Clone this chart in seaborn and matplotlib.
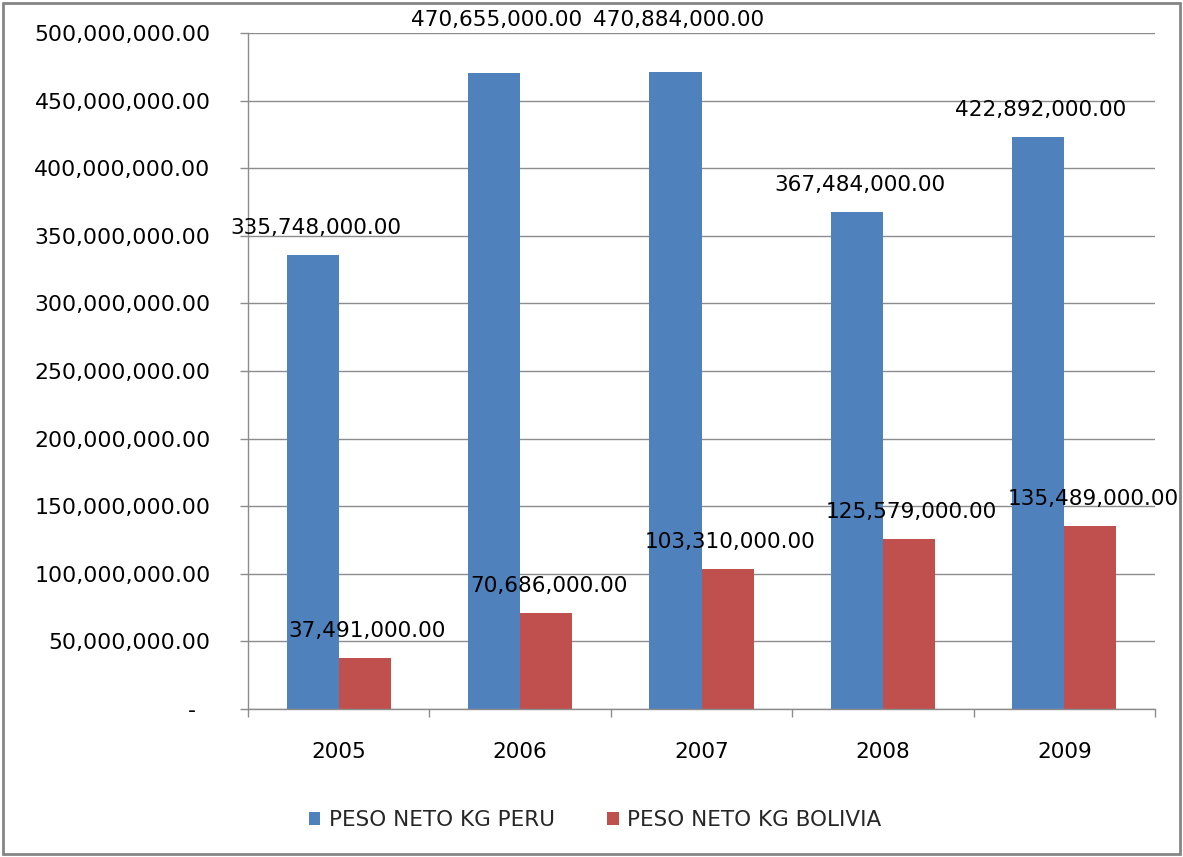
import matplotlib
matplotlib.use("Agg")
import matplotlib.pyplot as plt
from matplotlib.patches import Rectangle, Patch
from matplotlib.ticker import FuncFormatter, FixedLocator
import pandas as pd
import seaborn as sns

# Net weight (kg) per year and origin
years = ["2005", "2006", "2007", "2008", "2009"]
peru_kg = [335748000, 470655000, 470884000, 367484000, 422892000]
bolivia_kg = [37491000, 70686000, 103310000, 125579000, 135489000]
series_names = ["PESO NETO KG PERU", "PESO NETO KG BOLIVIA"]
y_ticks = [0, 50e6, 100e6, 150e6, 200e6, 250e6, 300e6, 350e6, 400e6, 450e6, 500e6]

BLUE = "#4F81BD"
RED = "#C0504D"
GRID = "#8C8C8C"

df = pd.DataFrame({
    "year": years * 2,
    "kg": peru_kg + bolivia_kg,
    "series": [series_names[0]] * len(years) + [series_names[1]] * len(years),
})

sns.set_theme(style="white")
plt.rcParams["font.family"] = ["DejaVu Sans"]

fig = plt.figure(figsize=(11.83, 8.57), dpi=100)
ax = fig.add_axes([248 / 1183, 1 - 709 / 857, (1155 - 248) / 1183, (709 - 33) / 857])

sns.barplot(data=df, x="year", y="kg", hue="series", palette=[BLUE, RED],
            width=0.575, gap=0, saturation=1, edgecolor="none",
            ax=ax, legend=False, errorbar=None)

ax.set_xlim(-0.5, len(years) - 0.5)
ax.set_ylim(0, 500e6)
ax.set_xlabel("")
ax.set_ylabel("")

# y axis: accounting-style numbers, dash for zero
ax.yaxis.set_major_locator(FixedLocator(y_ticks))
ax.yaxis.set_major_formatter(FuncFormatter(lambda v, p: "-  " if v == 0 else f"{v:,.2f}"))
ax.yaxis.grid(True, color=GRID, linewidth=1)
ax.set_axisbelow(True)

# x axis: labels at centres, tick marks between categories
ax.set_xticks(range(len(years)))
ax.set_xticklabels(years)
ax.set_xticks([i - 0.5 for i in range(len(years) + 1)], minor=True)
ax.tick_params(axis="x", which="major", length=0, pad=24, labelsize=15.5, colors="#000000")
ax.tick_params(axis="x", which="minor", length=6, width=1, color=GRID, direction="out", bottom=True)
ax.tick_params(axis="y", which="major", length=6, width=1, color=GRID, direction="out",
               left=True, pad=21, labelsize=15.8, labelcolor="#000000")

for side in ["top", "right"]:
    ax.spines[side].set_visible(False)
for side in ["left", "bottom"]:
    ax.spines[side].set_color(GRID)
    ax.spines[side].set_linewidth(1)

# value labels above each bar
label_lift = {0: [19.5, 38, 38, 19.5, 19.5], 1: [19.5, 19.5, 19.5, 19.5, 19.5]}
for s, cont in enumerate(ax.containers):
    values = peru_kg if s == 0 else bolivia_kg
    for i, (bar, v) in enumerate(zip(cont, values)):
        ax.annotate(f"{v:,.2f}", xy=(bar.get_x() + bar.get_width() / 2, v),
                    xytext=(2, label_lift[s][i]), textcoords="offset points",
                    ha="center", va="center", fontsize=15.6, color="#000000",
                    annotation_clip=False)

handles = [Patch(facecolor=BLUE, edgecolor="none"), Patch(facecolor=RED, edgecolor="none")]
fig.legend(handles, series_names, loc="center", bbox_to_anchor=(0.503, 1 - 820 / 857),
           ncol=2, frameon=False, fontsize=15.5, handlelength=0.55, handleheight=0.55,
           handletextpad=0.4, columnspacing=2.4)

# outer chart border
fig.patches.append(Rectangle((3 / 1183, 3 / 857), 1 - 6 / 1183, 1 - 6 / 857,
                             transform=fig.transFigure, fill=False,
                             edgecolor="#858585", linewidth=2))

fig.savefig("out.png", dpi=100, facecolor="white")
